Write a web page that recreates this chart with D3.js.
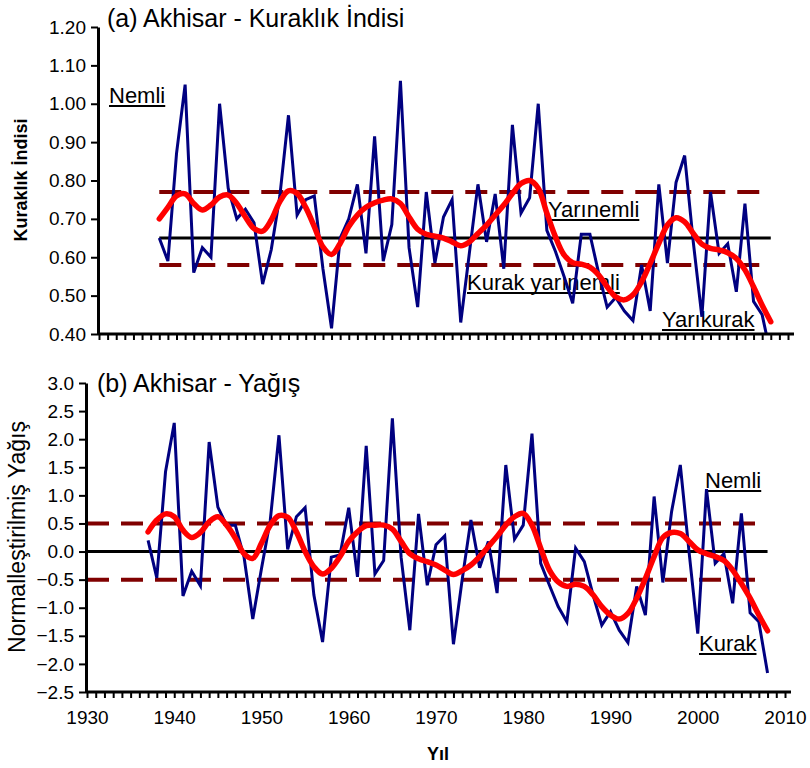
<!DOCTYPE html>
<html lang="tr">
<head>
<meta charset="UTF-8">
<title>Akhisar - Kuraklık İndisi ve Yağış</title>
<script src="https://d3js.org/d3.v7.min.js"></script>
<style>
  body { margin: 0; background: #fff; }
  svg { display: block; font-family: "Liberation Sans", Arial, sans-serif; }
  .axis path, .axis line { stroke: #000; }
  .axis text { font-size: 19px; fill: #000; }
</style>
</head>
<body>
<svg id="chart" width="810" height="768"></svg>
<script>
// years 1937-2008
const startYear = 1937;
const endYear = 2008;

// (a) drought index, yearly and smoothed
const indexYearly = [
  0.65, 0.59, 0.87, 1.05, 0.56, 0.625, 0.60, 1.00, 0.78, 0.70,
  0.725, 0.69, 0.53, 0.62, 0.76, 0.97, 0.71, 0.75, 0.76, 0.57,
  0.415, 0.65, 0.70, 0.79, 0.61, 0.915, 0.59, 0.685, 1.06, 0.625,
  0.47, 0.77, 0.585, 0.705, 0.75, 0.43, 0.61, 0.79, 0.64, 0.765,
  0.57, 0.945, 0.715, 0.755, 1.00, 0.67, 0.615, 0.55, 0.48, 0.66,
  0.66, 0.56, 0.47, 0.495, 0.46, 0.435, 0.58, 0.46, 0.79, 0.585,
  0.795, 0.865, 0.64, 0.445, 0.77, 0.61, 0.635, 0.51, 0.74, 0.485,
  0.45, 0.345
];
const indexSmooth = [
  0.70, 0.73, 0.76, 0.765, 0.74, 0.723, 0.736, 0.757, 0.762, 0.74,
  0.705, 0.675, 0.668, 0.697, 0.745, 0.773, 0.766, 0.73, 0.68, 0.627,
  0.607, 0.636, 0.68, 0.71, 0.73, 0.742, 0.749, 0.752, 0.74, 0.705,
  0.673, 0.66, 0.655, 0.65, 0.64, 0.63, 0.64, 0.662, 0.684, 0.71,
  0.736, 0.766, 0.792, 0.80, 0.78, 0.715, 0.653, 0.606, 0.586, 0.582,
  0.574, 0.554, 0.523, 0.497, 0.489, 0.502, 0.536, 0.584, 0.636, 0.684,
  0.703, 0.692, 0.662, 0.634, 0.623, 0.619, 0.612, 0.597, 0.567, 0.523,
  0.475, 0.432
];
const indexMean = 0.65;
const indexBands = [0.77, 0.58];

// (b) normalised precipitation, yearly and smoothed
const rainYearly = [
  0.2, -0.47, 1.42, 2.29, -0.79, -0.35, -0.61, 1.95, 0.79, 0.47,
  0.47, -0.1, -1.2, -0.3, 0.55, 2.07, 0.04, 0.62, 0.78, -0.77,
  -1.61, -0.1, -0.06, 0.78, -0.45, 1.88, -0.40, -0.16, 2.37, -0.1,
  -1.40, 0.67, -0.6, 0.12, 0.28, -1.65, -0.5, 0.56, -0.29, 0.18,
  -0.74, 1.54, 0.22, 0.47, 2.10, -0.21, -0.6, -0.98, -1.25, 0.06,
  -0.18, -0.77, -1.31, -1.07, -1.40, -1.62, -0.62, -1.13, 0.98, -0.55,
  0.71, 1.54, 0.0, -1.46, 1.11, -0.21, -0.04, -0.92, 0.68, -1.09,
  -1.25, -2.16
];
const rainSmooth = [
  0.35, 0.56, 0.67, 0.62, 0.38, 0.25, 0.34, 0.53, 0.62, 0.47,
  0.24, -0.04, -0.12, 0.15, 0.47, 0.64, 0.61, 0.35, 0.0, -0.27,
  -0.40, -0.30, -0.09, 0.18, 0.35, 0.46, 0.47, 0.47, 0.40, 0.18,
  -0.04, -0.13, -0.18, -0.24, -0.33, -0.41, -0.34, -0.24, -0.09, 0.09,
  0.27, 0.47, 0.62, 0.68, 0.47, 0.06, -0.33, -0.54, -0.62, -0.58,
  -0.62, -0.77, -0.98, -1.13, -1.20, -1.10, -0.83, -0.48, -0.09, 0.25,
  0.34, 0.32, 0.18, 0.03, -0.04, -0.09, -0.16, -0.33, -0.57, -0.83,
  -1.13, -1.41
];
const rainMean = 0;
const rainBands = [0.5, -0.5];

const yearTicks = [1930, 1940, 1950, 1960, 1970, 1980, 1990, 2000, 2010];
const indexTicks = [0.4, 0.5, 0.6, 0.7, 0.8, 0.9, 1.0, 1.1, 1.2];
const rainTicks = [-2.5, -2.0, -1.5, -1.0, -0.5, 0.0, 0.5, 1.0, 1.5, 2.0, 2.5, 3.0];

const years = d3.range(startYear, endYear + 1);
const svg = d3.select('#chart');
svg.append('rect').attr('width', 810).attr('height', 768).attr('fill', '#fff');

const navy = '#000080', red = '#ff0000', maroon = '#800000';

function drawPanel(cfg) {
  const g = svg.append('g');
  const x = d3.scaleLinear().domain([1930, 2010]).range(cfg.xRange);
  const y = d3.scaleLinear().domain(cfg.yDomain).range(cfg.yRange);

  g.append('clipPath').attr('id', cfg.id + '-clip')
    .append('rect')
    .attr('x', cfg.xRange[0]).attr('y', cfg.yRange[1])
    .attr('width', cfg.xRange[1] - cfg.xRange[0] + 10)
    .attr('height', cfg.yRange[0] - cfg.yRange[1]);

  // category labels (drawn under the lines)
  cfg.labels.forEach(l => {
    const t = g.append('text')
      .attr('x', l.x).attr('y', l.y)
      .attr('font-size', 22)
      .attr('fill', '#000')
      .text(l.text);
    const w = t.node().getComputedTextLength();
    g.append('line')
      .attr('x1', l.x).attr('x2', l.x + w)
      .attr('y1', l.y + 3).attr('y2', l.y + 3)
      .attr('stroke', '#000').attr('stroke-width', 2);
  });

  const plot = g.append('g').attr('clip-path', `url(#${cfg.id}-clip)`);

  // reference lines
  plot.append('line')
    .attr('x1', x(cfg.refFrom)).attr('x2', x(endYear))
    .attr('y1', y(cfg.mean)).attr('y2', y(cfg.mean))
    .attr('stroke', '#000').attr('stroke-width', 3);
  cfg.bands.forEach(b => {
    plot.append('line')
      .attr('x1', x(cfg.refFrom)).attr('x2', x(endYear) - 4)
      .attr('y1', y(b)).attr('y2', y(b))
      .attr('stroke', maroon).attr('stroke-width', 4)
      .attr('stroke-dasharray', '22,12');
  });

  const line = d3.line().x((d, i) => x(years[i])).y(d => y(d));
  plot.append('path').datum(cfg.yearly)
    .attr('d', line)
    .attr('fill', 'none').attr('stroke', navy).attr('stroke-width', 3)
    .attr('stroke-linejoin', 'miter');
  plot.append('path').datum(cfg.smooth)
    .attr('d', line.curve(d3.curveCatmullRom.alpha(0.5)))
    .attr('fill', 'none').attr('stroke', red).attr('stroke-width', 5.5)
    .attr('stroke-linecap', 'round');

  // axes
  const xAxis = d3.axisBottom(x)
    .tickValues(d3.range(1930, 2011))
    .tickSize(6).tickSizeOuter(0)
    .tickFormat(d => (cfg.showYears && d % 10 === 0) ? d : '');
  const xa = g.append('g').attr('class', 'axis')
    .attr('transform', `translate(0,${cfg.yRange[0]})`)
    .call(xAxis);
  xa.select('.domain').attr('stroke-width', 3)
    .attr('d', `M${cfg.xRange[0] - 1},0H${cfg.xRange[1] + 6}`);
  xa.selectAll('.tick line').attr('stroke-width', 2);
  xa.selectAll('.tick text').attr('dy', '1.15em').attr('y', 10);

  const yAxis = d3.axisLeft(y)
    .tickValues(cfg.yTicks)
    .tickSize(7).tickSizeOuter(0).tickPadding(5)
    .tickFormat(d3.format(cfg.yFormat));
  const ya = g.append('g').attr('class', 'axis')
    .attr('transform', `translate(${cfg.xRange[0] - 1},0)`)
    .call(yAxis);
  ya.select('.domain').attr('stroke-width', 3);
  ya.selectAll('.tick line').attr('stroke-width', 2);

  // title
  g.append('text')
    .attr('x', cfg.title.x).attr('y', cfg.title.y)
    .attr('font-size', 25)
    .text(cfg.title.text);

  // y label
  g.append('text')
    .attr('transform', `translate(${cfg.yLabel.x},${cfg.yLabel.y}) rotate(-90)`)
    .attr('text-anchor', 'middle')
    .attr('font-size', cfg.yLabel.size)
    .attr('font-weight', cfg.yLabel.bold ? 'bold' : 'normal')
    .text(cfg.yLabel.text);
}

drawPanel({
  id: 'a',
  xRange: [99, 788],
  yDomain: [0.4, 1.2],
  yRange: [334, 27],
  yTicks: indexTicks,
  yFormat: '.2f',
  yearly: indexYearly,
  smooth: indexSmooth,
  mean: indexMean,
  bands: indexBands,
  refFrom: startYear,
  showYears: false,
  title: { x: 107, y: 27, text: '(a) Akhisar - Kuraklık İndisi' },
  yLabel: { x: 27, y: 180, size: 18, bold: true, text: 'Kuraklık İndisi' },
  labels: [
    { x: 109, y: 103, text: 'Nemli' },
    { x: 548, y: 217, text: 'Yarınemli' },
    { x: 467, y: 290, text: 'Kurak yarınemli' },
    { x: 662, y: 327, text: 'Yarıkurak' }
  ]
});

drawPanel({
  id: 'b',
  xRange: [87, 785],
  yDomain: [-2.5, 3.0],
  yRange: [692, 383],
  yTicks: rainTicks,
  yFormat: '.1f',
  yearly: rainYearly,
  smooth: rainSmooth,
  mean: rainMean,
  bands: rainBands,
  refFrom: 1930,
  showYears: true,
  title: { x: 97, y: 392, text: '(b) Akhisar - Yağış' },
  yLabel: { x: 25, y: 537, size: 23, bold: false, text: 'Normalleştirilmiş Yağış' },
  labels: [
    { x: 705, y: 488, text: 'Nemli' },
    { x: 699, y: 651, text: 'Kurak' }
  ]
});

// x axis title
svg.append('text')
  .attr('x', 438).attr('y', 760)
  .attr('text-anchor', 'middle')
  .attr('font-size', 18).attr('font-weight', 'bold')
  .text('Yıl');
</script>
</body>
</html>
